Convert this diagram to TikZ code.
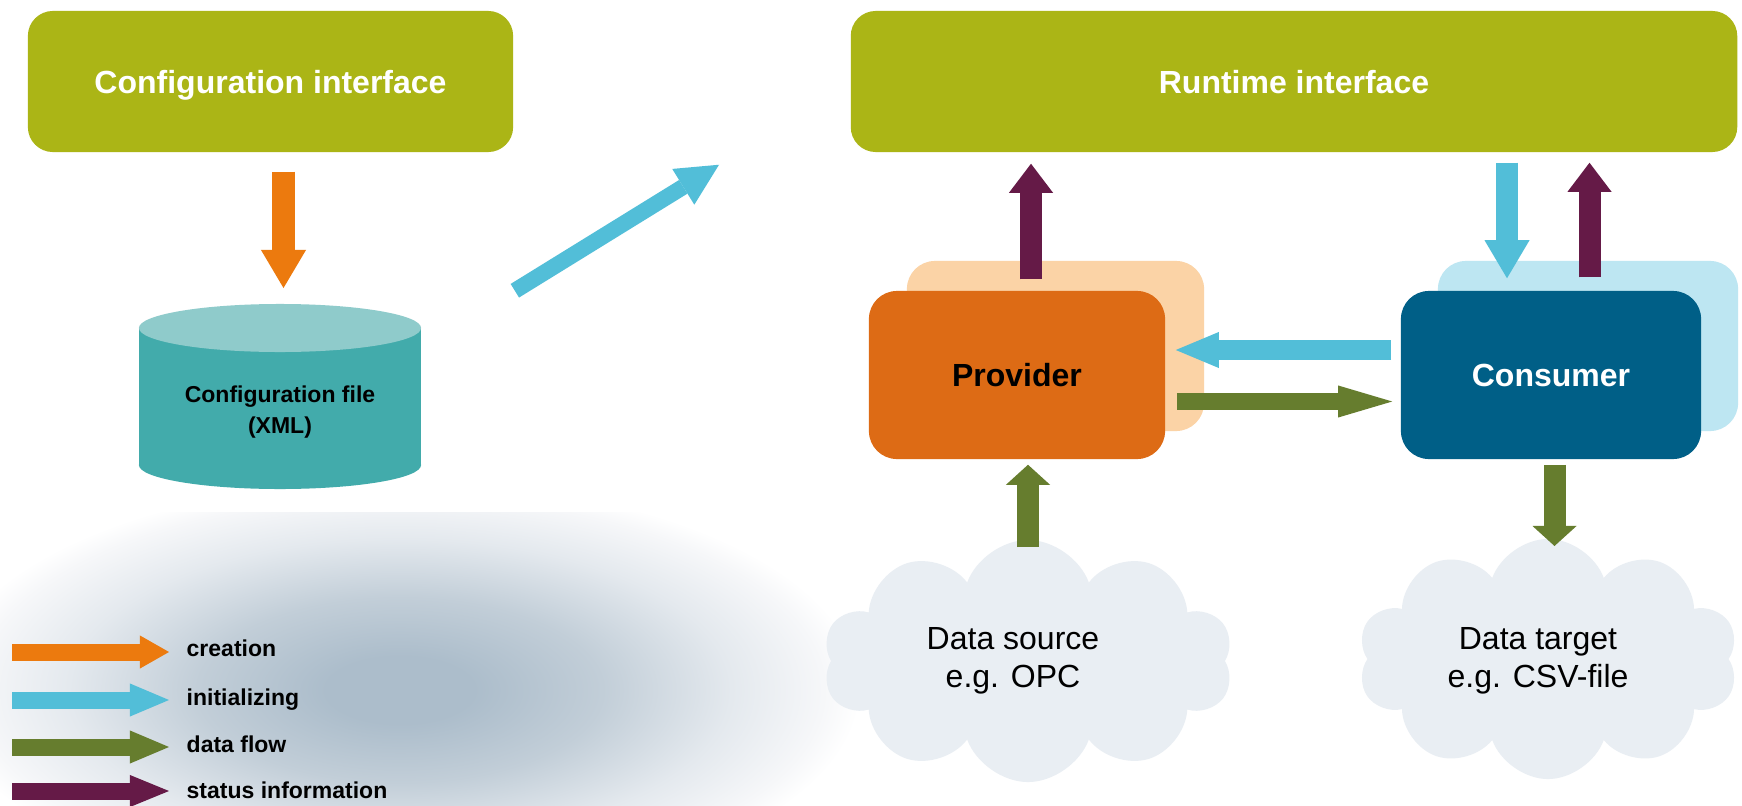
\documentclass[tikz,border=0pt]{standalone}
\usepackage{fontspec}
\setmainfont{Liberation Sans}
\usetikzlibrary{arrows.meta,calc,shapes.symbols}

\definecolor{olivebox}{RGB}{171,181,22}
\definecolor{creationc}{RGB}{236,122,14}
\definecolor{initc}{RGB}{82,190,216}
\definecolor{flowc}{RGB}{102,125,46}
\definecolor{statusc}{RGB}{101,26,71}
\definecolor{cyltopc}{RGB}{143,203,203}
\definecolor{cylsidec}{RGB}{66,171,171}
\definecolor{provfront}{RGB}{221,107,21}
\definecolor{provback}{RGB}{251,211,166}
\definecolor{consfront}{RGB}{0,95,135}
\definecolor{consback}{RGB}{189,230,242}
\definecolor{cloudc}{RGB}{233,238,243}
\definecolor{blurA}{RGB}{172,189,203}
\definecolor{blurB}{RGB}{194,206,216}
\definecolor{blurC}{RGB}{228,233,238}
\definecolor{blurD}{RGB}{246,247,249}

\pgfdeclareradialshading{legendblur}{\pgfpoint{0bp}{0bp}}{%
  color(0bp)=(blurA); color(4bp)=(blurA); color(11bp)=(blurB);
  color(18bp)=(blurC); color(23bp)=(blurD); color(25bp)=(white); color(50bp)=(white)}

\tikzset{
  iface/.style={fill=olivebox, rounded corners=0.25cm, minimum height=1.41cm,
    inner sep=0pt, text depth=0pt, text=white, font=\bfseries\fontsize{9.1}{11}\selectfont},
  blockbox/.style={rounded corners=0.28cm, inner sep=0pt,
    font=\bfseries\fontsize{9.1}{11}\selectfont},
  cloudy/.style={cloud, cloud puffs=10, cloud puff arc=140, cloud ignores aspect,
    minimum width=4.1cm, minimum height=2.42cm, fill=cloudc, inner sep=0pt},
  cloudtext/.style={align=center, inner sep=0pt, font=\fontsize{9.1}{10.8}\selectfont},
  legtext/.style={inner sep=0pt, font=\bfseries\fontsize{6.54}{8}\selectfont},
  barrow/.style n args={4}{draw=#1, line width=#2,
    -{Triangle[width=#3, length=#4, line width=0pt]}}
}

\begin{document}
\begin{tikzpicture}[x=0.01cm, y=-0.01cm]
\useasboundingbox (0,0) rectangle (1742,806);
\fill[white] (0,0) rectangle (1742,806);

% soft shadow behind the legend
\begin{scope}
  \clip (0,512) rectangle (860,806);
  \shade[shading=legendblur] (400,690) ellipse [x radius=4.6cm, y radius=2.1cm];
\end{scope}

% interfaces
\node[iface, minimum width=4.85cm] (cfg) at (270.5,81.5) {Configuration interface};
\node[iface, minimum width=8.86cm] (rt) at (1294,81.5) {Runtime interface};

% configuration file cylinder
\fill[cylsidec] (139,328) rectangle (421,465);
\fill[cylsidec] (280,465) ellipse [x radius=1.41cm, y radius=0.24cm];
\fill[cyltopc] (280,328) ellipse [x radius=1.41cm, y radius=0.24cm];
\coordinate (cyltop) at (280,304);
\node[align=center, inner sep=0pt, font=\bfseries\fontsize{6.54}{8.8}\selectfont]
  (cyl) at (280,412.5) {Configuration file\\(XML)};

% provider and consumer blocks
\node[blockbox, fill=provback, minimum width=2.97cm, minimum height=1.70cm]
  (provshadow) at (1055.5,346) {};
\node[blockbox, fill=provfront, minimum width=2.96cm, minimum height=1.68cm]
  (prov) at (1017,375) {Provider};
\node[blockbox, fill=consback, minimum width=3.00cm, minimum height=1.70cm]
  (consshadow) at (1588,346) {};
\node[blockbox, fill=consfront, text=white, minimum width=3.00cm, minimum height=1.68cm]
  (cons) at (1551,375) {Consumer};

% data source and target
\node[cloudy] (src) at (1028,661) {};
\node[cloudtext] (srctext) at (1013,661) {Data source\\e.g. OPC};
\node[cloudy, minimum width=3.8cm, minimum height=2.4cm] (tgt) at (1548,659) {};
\node[cloudtext] (tgttext) at (1538,661) {Data target\\e.g. CSV-file};

% connectors
\draw[barrow={creationc}{0.23cm}{0.45cm}{0.38cm}]
  ($(cfg.south)+(13,19)$) -- ($(cyltop)+(3.5,-16)$);
\draw[barrow={initc}{0.16cm}{0.42cm}{0.42cm}]
  ($(cfg.south east)+(1,138)$) -- ($(rt.south west)+(-131,12)$);
\draw[barrow={statusc}{0.22cm}{0.44cm}{0.29cm}]
  ($(prov.north)+(14,-11)$) -- ($(rt.south -| prov.north)+(14,11)$);
\draw[barrow={initc}{0.22cm}{0.45cm}{0.38cm}]
  ($(rt.south -| cons.north)+(-44,10)$) -- ($(cons.north)+(-44,-12)$);
\draw[barrow={statusc}{0.22cm}{0.44cm}{0.29cm}]
  ($(cons.north)+(38.5,-13)$) -- ($(rt.south -| cons.north)+(38.5,10)$);
\draw[barrow={initc}{0.19cm}{0.36cm}{0.43cm}]
  ($(cons.west)+(-9,-25)$) -- ($(prov.east)+(10,-25)$);
\draw[barrow={flowc}{0.17cm}{0.32cm}{0.54cm}]
  ($(prov.east)+(11,26.5)$) -- ($(cons.west)+(-8,26.5)$);
\draw[barrow={flowc}{0.22cm}{0.44cm}{0.20cm}]
  ($(src.center)+(0,-114)$) -- ($(prov.south)+(11,5)$);
\draw[barrow={flowc}{0.22cm}{0.44cm}{0.20cm}]
  ($(cons.south)+(3.5,5)$) -- ($(tgt.center)+(6.5,-113)$);

% legend
\node[legtext, anchor=base west] (lcre) at (186,656) {creation};
\node[legtext, anchor=base west] (lini) at (186,705) {initializing};
\node[legtext, anchor=base west] (lflo) at (186,752) {data flow};
\node[legtext, anchor=base west] (lsta) at (186,798) {status information};
\draw[barrow={creationc}{0.17cm}{0.33cm}{0.29cm}]
  ($(lcre.base west)+(-174,-4)$) -- ($(lcre.base west)+(-17,-4)$);
\draw[barrow={initc}{0.17cm}{0.33cm}{0.39cm}]
  ($(lini.base west)+(-174,-5)$) -- ($(lini.base west)+(-17,-5)$);
\draw[barrow={flowc}{0.17cm}{0.33cm}{0.39cm}]
  ($(lflo.base west)+(-174,-5)$) -- ($(lflo.base west)+(-17,-5)$);
\draw[barrow={statusc}{0.17cm}{0.32cm}{0.39cm}]
  ($(lsta.base west)+(-174,-7)$) -- ($(lsta.base west)+(-17,-7)$);
\end{tikzpicture}
\end{document}
